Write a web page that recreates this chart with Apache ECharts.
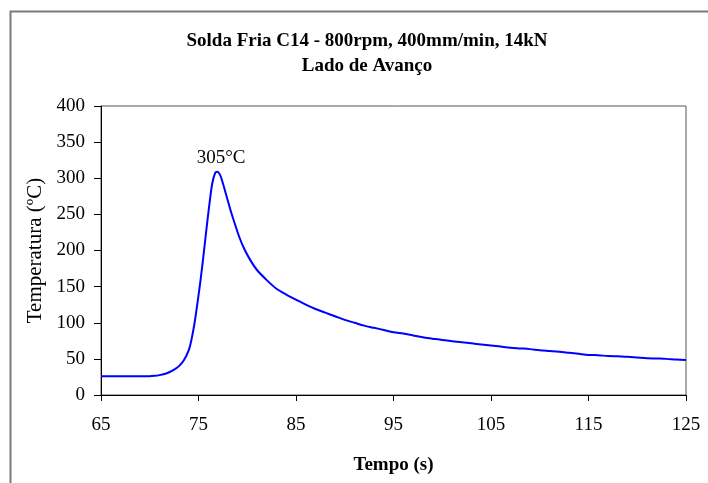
<!DOCTYPE html>
<html>
<head>
<meta charset="utf-8">
<script src="https://cdn.jsdelivr.net/npm/echarts@6/dist/echarts.min.js"></script>
<style>
  html, body { margin: 0; padding: 0; background: #fff; }
  #main { width: 708px; height: 483px; }
</style>
</head>
<body>
<div id="main"></div>
<script>
// tempo (s)
var tempo = [65, 66, 67, 68, 69, 70, 70.5, 71, 71.5, 72, 72.5, 73, 73.5, 74, 74.3, 74.6, 74.9,
    75.2, 75.5, 75.8, 76.1, 76.4, 76.7, 76.9, 77.2, 77.5, 77.9, 78.3, 78.7, 79.2, 79.7, 80.3,
    81, 82, 83, 84, 85, 86, 87, 88, 89, 90, 91, 92, 93, 94, 95, 96, 97, 98, 99, 100,
    101, 102, 103, 104, 105, 106, 107, 108, 109, 110, 111, 112, 113, 114, 115, 116, 117,
    118, 119, 120, 121, 122, 123, 124, 125];
// temperatura (ºC)
var temperatura = [26, 26, 26, 26, 26, 26, 26.5, 27.5, 29, 31.5, 35, 40, 48, 62, 78, 100, 128,
    158, 192, 228, 262, 292, 307, 309, 305, 293, 274, 255, 238, 218, 202, 187,
    173, 159, 147, 139, 132, 125, 119, 114, 109, 104, 100, 96, 93, 90, 87, 85, 82.5, 80, 78, 76,
    74.5, 73, 71.5, 70, 68.5, 67, 65.5, 64.5, 63.5, 62, 61, 60, 58.5, 57, 55.5, 55, 54,
    53.5, 53, 52, 51, 50.5, 50, 49, 48.5];
var picoIndex = 23;
var picoTexto = '305°C';

var serif = "'Liberation Serif', 'Times New Roman', serif";

var dados = [];
for (var i = 0; i < tempo.length; i++) {
    dados.push([tempo[i], temperatura[i]]);
}

var myChart = echarts.init(document.getElementById('main'));
var option = {
    backgroundColor: '#fff',
    animation: false,
    title: {
        text: 'Solda Fria C14 - 800rpm, 400mm/min, 14kN\nLado de Avanço',
        left: 362, top: 24, textAlign: 'center',
        textStyle: { fontFamily: serif, fontSize: 19, fontWeight: 'bold', color: '#000', lineHeight: 25 }
    },
    graphic: [{
        type: 'rect', left: 8, top: 9,
        shape: { width: 760, height: 520 },
        style: { fill: 'none', stroke: '#7a7a7a', lineWidth: 2 }
    }],
    grid: {
        left: 101, right: 22, top: 106, bottom: 88,
        show: true, borderColor: '#555', borderWidth: 1, backgroundColor: 'transparent'
    },
    xAxis: {
        type: 'value', min: 65, max: 125, interval: 10,
        name: 'Tempo (s)', nameLocation: 'middle', nameGap: 61,
        nameTextStyle: { fontFamily: serif, fontSize: 19, fontWeight: 'bold', color: '#000' },
        axisLine: { show: true, lineStyle: { color: '#000', width: 1 } },
        axisTick: { show: true, inside: false, length: 6, lineStyle: { color: '#000' } },
        axisLabel: { fontFamily: serif, fontSize: 19, color: '#000', margin: 21 },
        splitLine: { show: false }
    },
    yAxis: {
        type: 'value', min: 0, max: 400, interval: 50,
        name: 'Temperatura (ºC)', nameLocation: 'middle', nameGap: 54, nameRotate: 90,
        nameTextStyle: { fontFamily: serif, fontSize: 21, color: '#000' },
        axisLine: { show: true, lineStyle: { color: '#000', width: 1 } },
        axisTick: { show: true, inside: false, length: 7, lineStyle: { color: '#000' } },
        axisLabel: { fontFamily: serif, fontSize: 19, color: '#000', margin: 16 },
        splitLine: { show: false }
    },
    series: [{
        type: 'line',
        data: dados,
        showSymbol: false,
        smooth: 0.3,
        lineStyle: { color: '#0000ff', width: 2 },
        itemStyle: { color: '#0000ff' },
        markPoint: {
            symbol: 'circle', symbolSize: 0,
            data: [{
                coord: [tempo[picoIndex], temperatura[picoIndex]],
                label: {
                    show: true, position: 'top', distance: 4, offset: [4, 0],
                    formatter: picoTexto,
                    color: '#000', fontFamily: serif, fontSize: 19
                }
            }]
        }
    }]
};
myChart.setOption(option);
</script>
</body>
</html>
